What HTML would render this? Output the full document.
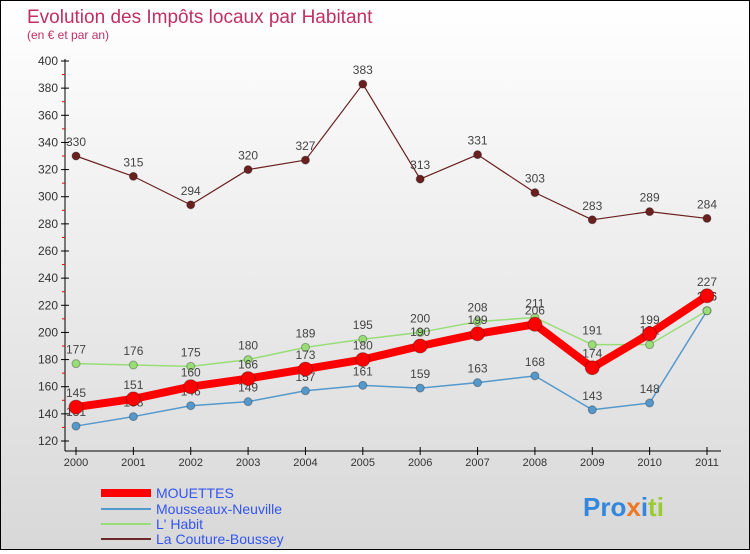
<!DOCTYPE html>
<html><head><meta charset="utf-8"><style>
body{margin:0}
#c{width:748px;height:548px;border:1px solid #000;background:linear-gradient(#fff,#d8d8d8);position:relative;font-family:"Liberation Sans","DejaVu Sans",sans-serif}
</style></head><body>
<div id="c">
<svg id="s" width="748" height="548">
<text x="26" y="22" font-size="19" fill="#c03060">Evolution des Impôts locaux par Habitant</text>
<text x="26" y="38" font-size="12" fill="#c03060">(en € et par an)</text>
<g id="axes"></g><g id="series"></g>
<g font-size="14" fill="#3355ee">
<line x1="100" y1="492" x2="150" y2="492" stroke="#f00" stroke-width="8"/>
<text x="155" y="497">MOUETTES</text>
<line x1="100" y1="508" x2="150" y2="508" stroke="#5599cc" stroke-width="2"/>
<text x="155" y="513">Mousseaux-Neuville</text>
<line x1="100" y1="523" x2="150" y2="523" stroke="#99dd77" stroke-width="2"/>
<text x="155" y="528">L' Habit</text>
<line x1="100" y1="538" x2="150" y2="538" stroke="#6b2a2a" stroke-width="2"/>
<text x="155" y="543">La Couture-Boussey</text>
</g>
<text x="582" y="515" font-size="26" font-weight="bold"><tspan fill="#3388dd">Pro</tspan><tspan fill="#ee7722">x</tspan><tspan fill="#3388dd">i</tspan><tspan fill="#99cc33">ti</tspan></text>
</svg></div>
<script>
const years=[2000,2001,2002,2003,2004,2005,2006,2007,2008,2009,2010,2011];
const yTicks=[120,140,160,180,200,220,240,260,280,300,320,340,360,380,400];
const couture=[330,315,294,320,327,383,313,331,303,283,289,284];
const habit=[177,176,175,180,189,195,200,208,211,191,191,216];
const mousseaux=[131,138,146,149,157,161,159,163,168,143,148,216];
const mouettes=[145,151,160,166,173,180,190,199,206,174,199,227];
const NS="http://www.w3.org/2000/svg";
const X=i=>75+i*(706-75)/(years.length-1);
const Y=v=>440-(v-120)*380/280;
function mk(t,a,p){const e=document.createElementNS(NS,t);for(const k in a)e.setAttribute(k,a[k]);p.appendChild(e);return e;}
const ax=document.getElementById('axes');
const yl=mk('line',{x1:64,y1:58,x2:64,y2:450,stroke:'#000'},ax);


const xl=mk('line',{x1:64,y1:450,x2:720,y2:450,stroke:'#000'},ax);


yTicks.forEach(v=>{
 mk('line',{x1:60,x2:68,y1:Y(v),y2:Y(v),stroke:'#000'},ax);
 if(v<400) mk('line',{x1:61,x2:64,y1:Y(v+10),y2:Y(v+10),stroke:'#e00'},ax);
 const t=mk('text',{x:57,y:Y(v)+4,'font-size':12,fill:'#333','text-anchor':'end'},ax);
 t.textContent=v;
 
 
});
years.forEach((yr,i)=>{
 mk('line',{x1:X(i),x2:X(i),y1:446,y2:454,stroke:'#000'},ax);
 const t=mk('text',{x:X(i),y:465,'font-size':11,fill:'#333','text-anchor':'middle'},ax);
 t.textContent=yr;
 
 
});
const sg=document.getElementById('series');
function draw(vals,color,lw,r,name){
 const g=mk('g',{},sg);
 
 
 const pl=mk('polyline',{points:vals.map((v,i)=>X(i)+','+Y(v)).join(' '),fill:'none',stroke:color,'stroke-width':lw,'stroke-linejoin':'round'},g);
 
 
 vals.forEach((v,i)=>{
  const c=mk('circle',{cx:X(i),cy:Y(v),r:r,fill:color,stroke:'rgba(0,0,0,0.3)'},g);
  
  
  const t=mk('text',{x:X(i),y:Y(v)-10,'font-size':12,fill:'#444','text-anchor':'middle'},g);
  t.textContent=v;
  
  
 });
}
draw(couture,'#6b2020',1.2,4,'couture');
draw(mousseaux,'#5599cc',1.5,4,'mousseaux');
draw(habit,'#99dd77',1.5,4,'habit');
draw(mouettes,'#f00',8,7,'mouettes');
</script>
</body></html>
